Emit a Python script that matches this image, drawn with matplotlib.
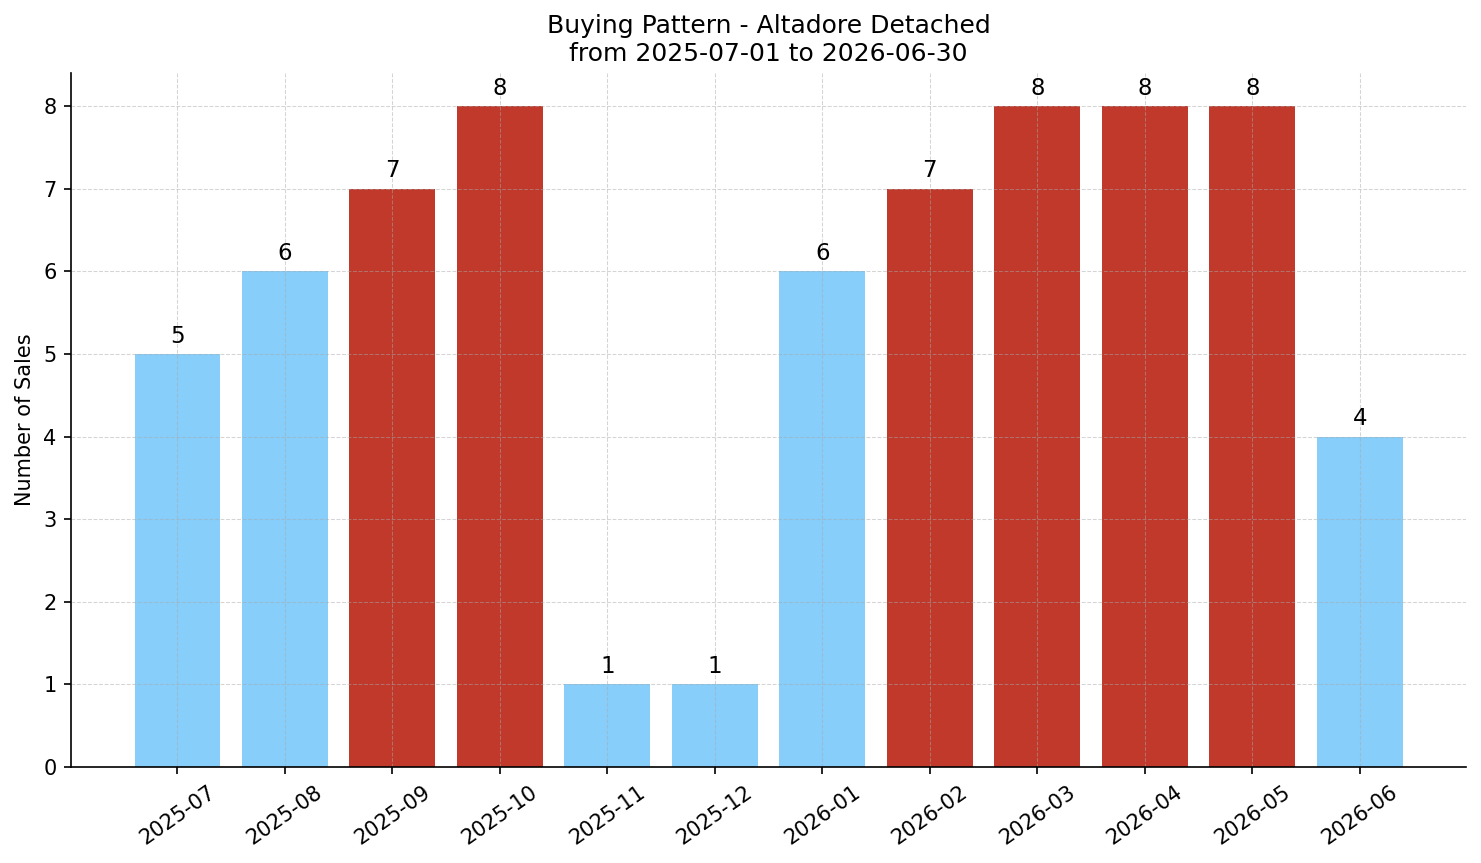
import numpy as np
import matplotlib.pyplot as plt

months = ["2025-07", "2025-08", "2025-09", "2025-10", "2025-11", "2025-12",
          "2026-01", "2026-02", "2026-03", "2026-04", "2026-05", "2026-06"]
sales = [5, 6, 7, 8, 1, 1, 6, 7, 8, 8, 8, 4]
hot = [False, False, True, True, False, False, False, True, True, True, True, False]

BLUE = "#87CEFA"
RED = "#C0392B"

fig, ax = plt.subplots(figsize=(1481 / 150, 863 / 150), dpi=150)
fig.subplots_adjust(left=0.048, right=0.99, top=0.9154, bottom=0.1112)

x = np.arange(len(months))
colors = [RED if h else BLUE for h in hot]
rects = ax.bar(x, sales, width=0.8, color=colors)
ax.bar_label(rects, padding=3, fontsize=11)

ax.set_xticks(x, months, rotation=35)
ax.set_ylabel("Number of Sales")
ax.set_title("Buying Pattern - Altadore Detached\nfrom 2025-07-01 to 2026-06-30", fontsize=12)
ax.set_ylim(0, max(sales) * 1.05)
ax.grid(True, linestyle="--", color="#aaaaaa", alpha=0.5, linewidth=0.5)
ax.spines["top"].set_visible(False)
ax.spines["right"].set_visible(False)

fig.savefig("out.png", dpi=150)
